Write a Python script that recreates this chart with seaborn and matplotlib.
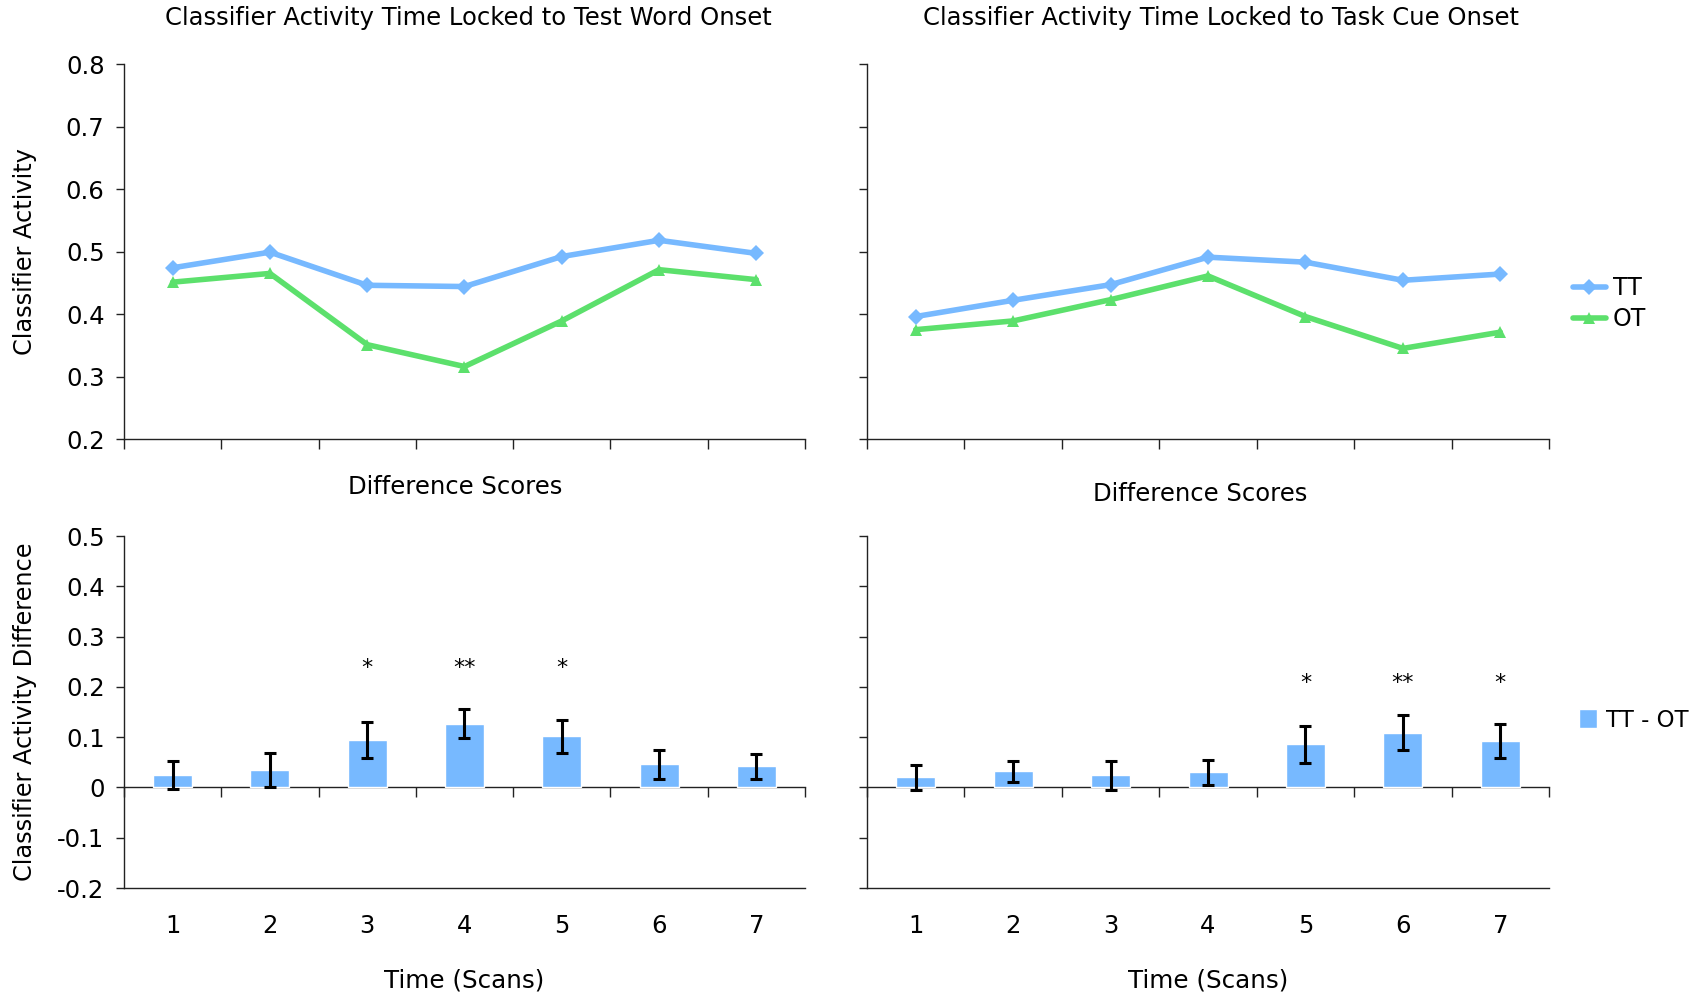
import numpy as np
import pandas as pd
import matplotlib
matplotlib.use("Agg")
import matplotlib.pyplot as plt
import seaborn as sns

# data
scans = [1, 2, 3, 4, 5, 6, 7]

tt_word = [0.474, 0.499, 0.446, 0.444, 0.492, 0.518, 0.497]
ot_word = [0.451, 0.465, 0.351, 0.316, 0.389, 0.471, 0.455]
tt_cue = [0.396, 0.422, 0.447, 0.491, 0.483, 0.454, 0.464]
ot_cue = [0.375, 0.389, 0.423, 0.461, 0.396, 0.345, 0.371]

diff_word = [0.024, 0.034, 0.094, 0.127, 0.102, 0.046, 0.042]
err_word = [0.028, 0.034, 0.036, 0.029, 0.033, 0.029, 0.025]
diff_cue = [0.020, 0.032, 0.024, 0.030, 0.086, 0.109, 0.092]
err_cue = [0.025, 0.021, 0.029, 0.025, 0.037, 0.035, 0.034]

stars_word = ["", "", "*", "**", "*", "", ""]
stars_cue = ["", "", "", "", "*", "**", "*"]
star_y_word = 0.238
star_y_cue = 0.208

BLUE = "#77B9FF"
GREEN = "#5CE06C"

sns.set_theme(style="white")
plt.rcParams["font.family"] = ["DejaVu Sans"]
plt.rcParams["text.color"] = "black"
plt.rcParams["axes.labelcolor"] = "black"
plt.rcParams["xtick.color"] = "black"
plt.rcParams["ytick.color"] = "black"

fig = plt.figure(figsize=(17.03, 9.96), dpi=100)
ax_tl = fig.add_axes([0.0728, 0.5592, 0.3999, 0.3765])
ax_tr = fig.add_axes([0.5091, 0.5592, 0.4005, 0.3765])
ax_bl = fig.add_axes([0.0728, 0.1084, 0.3999, 0.3534])
ax_br = fig.add_axes([0.5091, 0.1084, 0.4005, 0.3534])

boundaries = np.arange(0.5, 8.0, 1.0)


def style_axis(ax):
    for s in ["top", "right"]:
        ax.spines[s].set_visible(False)
    for s in ["left", "bottom"]:
        ax.spines[s].set_color("#222222")
        ax.spines[s].set_linewidth(1.0)
    ax.tick_params(axis="y", which="major", direction="out", length=6,
                   width=1, color="#222222", pad=8, labelsize=17.5, left=True)
    ax.set_xlim(0.5, 7.5)


# ---- top line charts ----
for ax, tt, ot in [(ax_tl, tt_word, ot_word), (ax_tr, tt_cue, ot_cue)]:
    df = pd.DataFrame({"scan": scans * 2, "value": tt + ot,
                       "cond": ["TT"] * 7 + ["OT"] * 7})
    sns.lineplot(data=df, x="scan", y="value", hue="cond", style="cond",
                 palette={"TT": BLUE, "OT": GREEN},
                 markers={"TT": "D", "OT": "^"}, dashes=False,
                 markersize=8, markeredgewidth=0, linewidth=4,
                 ax=ax, legend=(ax is ax_tr))
    style_axis(ax)
    ax.set_ylim(0.2, 0.8)
    ax.set_yticks(np.arange(0.2, 0.81, 0.1))
    ax.set_xticks(boundaries)
    ax.set_xticklabels([])
    ax.tick_params(axis="x", direction="out", length=7, width=1,
                   color="#222222", bottom=True)
    ax.set_xlabel("")
    ax.set_ylabel("")

ax_tl.set_yticklabels(["0.2", "0.3", "0.4", "0.5", "0.6", "0.7", "0.8"])
ax_tr.set_yticklabels([])
ax_tl.set_ylabel("Classifier Activity", fontsize=17.3)
ax_tl.yaxis.set_label_coords(-0.128, 0.5)

ax_tl.set_title("Classifier Activity Time Locked to Test Word Onset",
                fontsize=17.5, x=0.506, y=1.105, pad=0)
ax_tr.set_title("Classifier Activity Time Locked to Task Cue Onset",
                fontsize=17.5, x=0.519, y=1.105, pad=0)

h, l = ax_tr.get_legend_handles_labels()
ax_tr.get_legend().remove()
fig.legend(h, l, loc="center left", bbox_to_anchor=(0.911, 0.695),
           frameon=False, fontsize=17, handlelength=1.4, handletextpad=0.3,
           labelspacing=0.3)

# ---- bottom bar charts ----
for ax, d, e, stars, sy in [(ax_bl, diff_word, err_word, stars_word, star_y_word),
                            (ax_br, diff_cue, err_cue, stars_cue, star_y_cue)]:
    df = pd.DataFrame({"scan": scans, "diff": d})
    sns.barplot(data=df, x="scan", y="diff", native_scale=True, width=0.4,
                color=BLUE, saturation=1, errorbar=None, ax=ax,
                label="TT - OT")
    if ax.get_legend() is not None:
        ax.get_legend().remove()
    ax.errorbar(scans, d, yerr=e, fmt="none", ecolor="black",
                elinewidth=2.2, capsize=4, capthick=2.2)
    for x, y, s in zip(scans, d, stars):
        if s:
            ax.text(x, sy, s, ha="center", va="center", fontsize=16)
    style_axis(ax)
    ax.set_ylim(-0.2, 0.5)
    ax.set_yticks(np.arange(-0.2, 0.51, 0.1))
    ax.set_xticks(scans)
    ax.set_xticklabels([str(s) for s in scans])
    ax.tick_params(axis="x", length=0, pad=19, labelsize=17.5)
    ax.set_xlabel("Time (Scans)", fontsize=17.7, labelpad=22)
    ax.set_ylabel("")
    # category axis crossing at zero
    sec = ax.secondary_xaxis(2.0 / 7.0)
    sec.set_xticks(boundaries)
    sec.set_xticklabels([])
    sec.tick_params(axis="x", direction="out", length=7, width=1,
                    color="#222222")
    sec.spines["bottom"].set_color("#222222")
    sec.spines["bottom"].set_linewidth(1.0)

ax_bl.set_yticklabels(["-0.2", "-0.1", "0", "0.1", "0.2", "0.3", "0.4", "0.5"])
ax_br.set_yticklabels([])
ax_bl.set_ylabel("Classifier Activity Difference", fontsize=17.3)
ax_bl.yaxis.set_label_coords(-0.128, 0.5)

ax_bl.set_title("Difference Scores", fontsize=17.5, x=0.486, y=1.12, pad=0)
ax_br.set_title("Difference Scores", fontsize=17.5, x=0.488, y=1.10, pad=0)

hb, lb = ax_br.get_legend_handles_labels()
fig.legend(hb[:1], lb[:1], loc="center left", bbox_to_anchor=(0.915, 0.277),
           frameon=False, fontsize=16.5, handlelength=0.8, handleheight=0.9,
           handletextpad=0.4)

fig.savefig("out.png", dpi=100)
